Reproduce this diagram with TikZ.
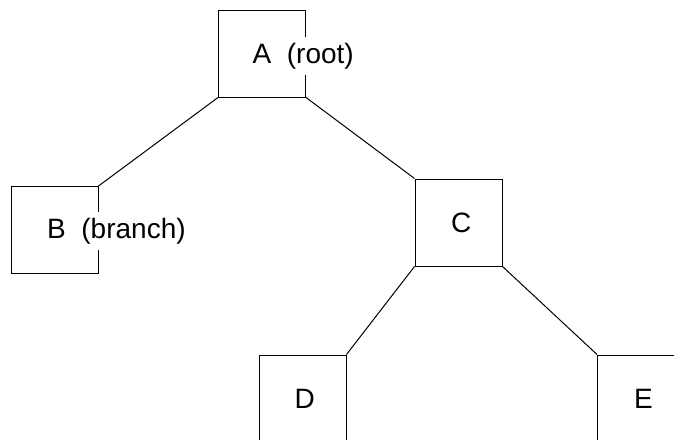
\documentclass[tikz,border=0pt]{standalone}
\usepackage{fontspec}
\setmainfont{Liberation Sans}
\usepackage{tikz}
\usetikzlibrary{calc, positioning}
\tikzset{
    boxnode/.style = {draw, rectangle, fill=none, minimum size=87, inner sep=0em, node distance=0em, line width=1pt},
    textnode/.style = {draw=none, fill=white, rectangle, inner xsep=0em, inner ysep=6pt, anchor=base west,
      font=\fontsize{28}{34}\selectfont},
    connect/.style = {black, line width=1pt}
}

\begin{document}
\begin{tikzpicture}[x=1pt, y=-1pt]
    \useasboundingbox (0,0) rectangle (674,439);

    \node[boxnode, name=A] at (262,53.5) {};
    \node[boxnode, name=B, below of=A, xshift=-207.5, yshift=-176.5] {};
    \node[boxnode, name=C, below of=A, xshift=196.5, yshift=-169] {};
    \node[boxnode, name=D, below of=C, xshift=-156, yshift=-176] {};
    \node[boxnode, name=E, below of=C, xshift=182.5, yshift=-176] {};

    \draw[connect] (A.south west) -- (B.north east);
    \draw[connect] (A.south east) -- (C.north west);
    \draw[connect] (C.south west) -- (D.north east);
    \draw[connect] (C.south east) -- (E.north west);

    \node[textnode, name=Atext, xshift=-9.5, yshift=-10] at (A.center) {A\ \ (root)};
    \node[textnode, name=Btext, xshift=-7.5, yshift=-8.5] at (B.center) {B\ \ (branch)};
    \node[textnode, name=Ctext, xshift=-7.5, yshift=-10] at (C.center) {C};
    \node[textnode, name=Dtext, xshift=-8, yshift=-10] at (D.center) {D};
    \node[textnode, name=Etext, xshift=-7, yshift=-10] at (E.center) {E};
\end{tikzpicture}
\end{document}
